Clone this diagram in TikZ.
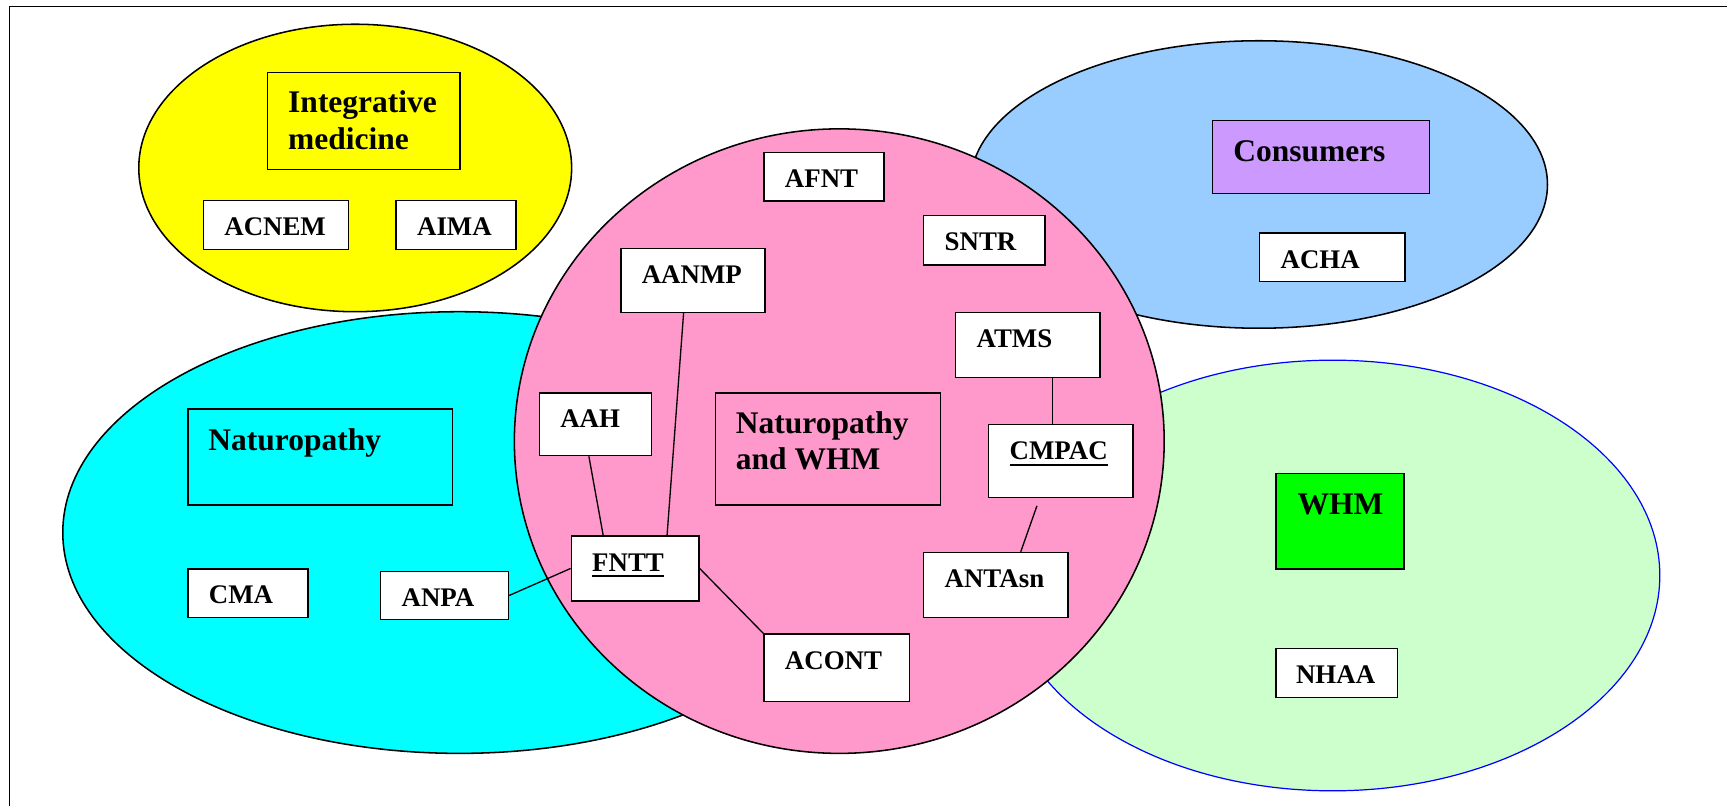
\documentclass[tikz,border=0pt]{standalone}
\usepackage{fontspec}
\setmainfont{Liberation Serif}
\definecolor{cyellow}{HTML}{FFFF00}
\definecolor{cblue}{HTML}{99CCFF}
\definecolor{ccyan}{HTML}{00FFFF}
\definecolor{cgreen}{HTML}{CCFFCC}
\definecolor{cpink}{HTML}{FF99CC}
\definecolor{cpurple}{HTML}{CC99FF}
\definecolor{cwhm}{HTML}{00FF00}
\newcommand\ulbox[1]{\setbox0\hbox{#1}\rlap{\vrule width\wd0 height -3.8pt depth 5.4pt}\box0}
\tikzset{
  region/.style={draw=black, line width=1.4pt},
  box/.style={draw=black, line width=1.3pt, fill=white, inner sep=0pt, anchor=north west},
  lbl/.style={anchor=base west, inner sep=0pt, font=\fontsize{24.4}{28}\selectfont\bfseries},
  ttl/.style={anchor=base west, inner sep=0pt, font=\fontsize{28.6}{33}\selectfont\bfseries},
  link/.style={draw=black, line width=1.2pt},
}
\newcommand\bx[6]{% name, x1, y1, x2, y2, fill
  \pgfmathsetmacro\bw{#4-#2}\pgfmathsetmacro\bh{#5-#3}%
  \node[box, fill=#6, minimum width=\bw pt, minimum height=\bh pt] (#1) at (#2,#3) {};}
\begin{document}
\begin{tikzpicture}[x=1pt, y=-1pt]
\useasboundingbox (0,0) rectangle (1568,732);
\fill[white] (0,0) rectangle (1568,732);
% frame
\draw[line width=1.6pt] (9,5.8) -- (1568,5.8);
\draw[line width=1pt] (9,5.8) -- (9,732);
% regions
\draw[region, fill=cyellow] (322.5,152.5) ellipse [x radius=196.5pt, y radius=130.5pt];
\draw[region, fill=cblue] (1143,167.5) ellipse [x radius=262pt, y radius=130.5pt];
\draw[region, fill=ccyan] (417,483.5) ellipse [x radius=360pt, y radius=200.5pt];
\draw[line width=1.1pt, draw=blue, fill=cgreen] (1210,522.5) ellipse [x radius=297pt, y radius=195.5pt];
\draw[region, fill=cpink] (762,400.5) ellipse [x radius=295pt, y radius=283.5pt];
% boxes
\bx{intmed}{242}{65}{417}{153}{cyellow}
\bx{acnem}{184}{181.5}{316}{226}{white}
\bx{aima}{359}{181.5}{468}{226}{white}
\bx{afnt}{693}{138}{802}{182}{white}
\bx{sntr}{838}{195}{948}{240}{white}
\bx{aanmp}{563}{225}{694}{283}{white}
\bx{atms}{867}{283}{998}{342}{white}
\bx{consumers}{1100}{109}{1297}{175}{cpurple}
\bx{acha}{1143}{211}{1275}{255}{white}
\bx{naturo}{170}{370.5}{410}{458}{ccyan}
\bx{aah}{489}{356}{591}{413}{white}
\bx{nwhm}{649}{356}{853}{458}{cpink}
\bx{cmpac}{897}{385}{1028}{451}{white}
\bx{fntt}{518}{486}{634}{545}{white}
\bx{anpa}{345}{518}{461}{562}{white}
\bx{cma}{170}{516}{279}{560}{white}
\bx{antasn}{838}{501}{969}{560}{white}
\bx{acont}{693}{575}{825}{636}{white}
\bx{whm}{1158}{429}{1274}{516}{cwhm}
\bx{nhaa}{1158}{588}{1268}{632.5}{white}
% labels
\node[ttl] (intmedT) at ([shift={(19.5pt,-37pt)}]intmed.north west) {\vtop{\baselineskip=33.5pt\hbox{Integrative}\hbox{medicine}}};
\node[lbl] (acnemT) at ([shift={(19.5pt,-32.5pt)}]acnem.north west) {ACNEM};
\node[lbl] (aimaT) at ([shift={(19.5pt,-32.5pt)}]aima.north west) {AIMA};
\node[lbl] (afntT) at ([shift={(19.5pt,-32.5pt)}]afnt.north west) {AFNT};
\node[lbl] (sntrT) at ([shift={(19.5pt,-32.5pt)}]sntr.north west) {SNTR};
\node[lbl] (aanmpT) at ([shift={(19.5pt,-32.5pt)}]aanmp.north west) {AANMP};
\node[lbl] (atmsT) at ([shift={(19.5pt,-32.5pt)}]atms.north west) {ATMS};
\node[ttl] (consumersT) at ([shift={(19.5pt,-37.5pt)}]consumers.north west) {Consumers};
\node[lbl] (achaT) at ([shift={(19.5pt,-32.5pt)}]acha.north west) {ACHA};
\node[ttl] (naturoT) at ([shift={(19pt,-38.5pt)}]naturo.north west) {Naturopathy};
\node[lbl] (aahT) at ([shift={(19.5pt,-32.5pt)}]aah.north west) {AAH};
\node[ttl] (nwhmT) at ([shift={(19pt,-37.5pt)}]nwhm.north west) {\vtop{\baselineskip=32.7pt\hbox{Naturopathy}\hbox{and WHM}}};
\node[lbl] (cmpacT) at ([shift={(19.5pt,-32.6pt)}]cmpac.north west) {\ulbox{CMPAC}};
\node[lbl] (fnttT) at ([shift={(19.5pt,-32.6pt)}]fntt.north west) {\ulbox{FNTT}};
\node[lbl] (anpaT) at ([shift={(19.5pt,-32.5pt)}]anpa.north west) {ANPA};
\node[lbl] (cmaT) at ([shift={(19.5pt,-32pt)}]cma.north west) {CMA};
\node[lbl] (antasnT) at ([shift={(19.5pt,-32.5pt)}]antasn.north west) {ANTAsn};
\node[lbl] (acontT) at ([shift={(19.5pt,-32.5pt)}]acont.north west) {ACONT};
\node[ttl] (whmT) at ([shift={(20pt,-37.8pt)}]whm.north west) {WHM};
\node[lbl] (nhaaT) at ([shift={(18.5pt,-33pt)}]nhaa.north west) {NHAA};
% connectors
\draw[link] ([xshift=-8.5pt]aanmp.south) -- ([xshift=29pt]fntt.north);
\draw[link] ([xshift=-6pt]aah.south) -- ([xshift=-29pt]fntt.north);
\draw[link] (anpa.east) -- (fntt.west);
\draw[link] (fntt.east) -- (acont.north west);
\draw[link] ([xshift=22.5pt]atms.south) -- ([xshift=-7.5pt]cmpac.north);
\draw[link] ([xshift=-21.7pt, yshift=-7pt]cmpac.south) -- ([xshift=22.6pt]antasn.north);
\end{tikzpicture}
\end{document}
